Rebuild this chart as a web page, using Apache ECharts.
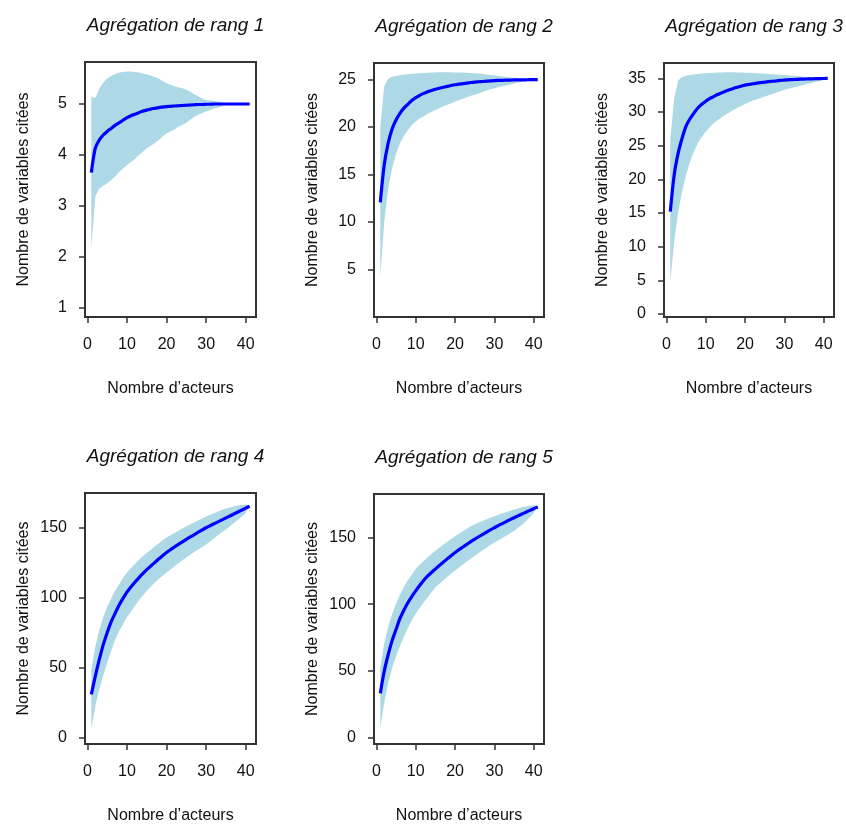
<!DOCTYPE html>
<html>
<head>
<meta charset="utf-8">
<script src="https://cdn.jsdelivr.net/npm/echarts@6/dist/echarts.min.js"></script>
<style>
html,body{margin:0;padding:0;background:#fff;}
#chart{width:846px;height:825px;}
</style>
</head>
<body>
<div id="chart"></div>
<script>
// Number of actors (x values)
const xs = [1,2,3,4,5,6,7,8,9,10,11,12,13,14,15,16,17,18,19,20,21,22,23,24,25,26,27,28,29,30,31,32,33,34,35,36,37,38,39,40,41];
const xTicks = [0,10,20,30,40];

const titles = ["Agrégation de rang 1","Agrégation de rang 2","Agrégation de rang 3","Agrégation de rang 4","Agrégation de rang 5"];
const xTitle = "Nombre d’acteurs";
const yTitle = "Nombre de variables citées";

// Rang 1
const mean1 = [3.65,4.13,4.29,4.39,4.46,4.52,4.58,4.63,4.68,4.73,4.77,4.80,4.83,4.86,4.88,4.90,4.915,4.93,4.94,4.95,4.955,4.96,4.965,4.97,4.975,4.98,4.985,4.99,4.99,4.995,4.995,5,5,5,5,5,5,5,5,5,5];
const upper1 = [5.14,5.12,5.30,5.42,5.50,5.55,5.59,5.62,5.63,5.64,5.64,5.63,5.62,5.60,5.58,5.56,5.53,5.50,5.45,5.41,5.38,5.35,5.33,5.31,5.28,5.24,5.19,5.15,5.11,5.08,5.07,5.06,5.05,5.04,5,5,5,5,5,5,5];
const lower1 = [2.16,3.18,3.34,3.39,3.44,3.50,3.57,3.66,3.73,3.80,3.86,3.92,3.99,4.06,4.13,4.18,4.23,4.29,4.36,4.42,4.46,4.50,4.55,4.59,4.63,4.69,4.75,4.79,4.82,4.85,4.88,4.91,4.93,4.95,5,5,5,5,5,5,5];
const yTicks1 = [1,2,3,4,5];

// Rang 2
const mean2 = [12.07,16.0,18.3,19.8,20.75,21.45,22.0,22.4,22.8,23.1,23.35,23.56,23.72,23.87,24.0,24.1,24.2,24.3,24.39,24.47,24.53,24.59,24.64,24.7,24.75,24.78,24.81,24.84,24.87,24.9,24.92,24.93,24.95,24.96,24.97,24.98,24.985,24.99,25,25,25];
const upper2 = [20.0,24.3,25.1,25.3,25.4,25.48,25.53,25.58,25.62,25.66,25.69,25.71,25.73,25.75,25.77,25.78,25.78,25.78,25.78,25.77,25.76,25.75,25.73,25.71,25.68,25.64,25.6,25.55,25.5,25.44,25.38,25.33,25.28,25.24,25.2,25.15,25.1,25.06,25.03,25.01,25];
const lower2 = [4.2,10.0,13.5,15.65,17.2,18.3,19.1,19.7,20.2,20.6,20.9,21.15,21.4,21.6,21.8,22.0,22.2,22.35,22.5,22.7,22.85,23.0,23.15,23.3,23.4,23.55,23.7,23.85,24.0,24.1,24.2,24.3,24.4,24.5,24.6,24.7,24.78,24.85,24.9,24.95,25];
const yTicks2 = [5,10,15,20,25];

// Rang 3
const mean3 = [15.2,20.7,23.9,26.1,27.9,29.0,29.85,30.6,31.15,31.6,32.0,32.3,32.6,32.85,33.1,33.3,33.5,33.7,33.85,34.0,34.1,34.2,34.3,34.38,34.45,34.52,34.58,34.64,34.7,34.75,34.79,34.82,34.85,34.88,34.9,34.92,34.94,34.96,34.98,34.99,35];
const upper3 = [26.0,32.0,34.7,35.2,35.4,35.5,35.58,35.65,35.72,35.78,35.82,35.85,35.87,35.89,35.9,35.9,35.9,35.89,35.87,35.85,35.83,35.8,35.77,35.74,35.7,35.66,35.62,35.58,35.54,35.5,35.45,35.4,35.35,35.3,35.25,35.2,35.16,35.12,35.08,35.05,35.02];
const lower3 = [4.8,10.8,15.2,18.2,20.7,22.65,24.1,25.4,26.3,27.1,27.75,28.35,28.8,29.2,29.6,29.95,30.3,30.6,30.9,31.2,31.45,31.7,31.9,32.1,32.3,32.5,32.7,32.9,33.1,33.3,33.45,33.6,33.75,33.9,34.05,34.2,34.35,34.5,34.62,34.75,34.9];
const yTicks3 = [0,5,10,15,20,25,30,35];

// Rang 4
const mean4 = [30.9,43.9,55.7,66.3,75,82.8,88.7,94.6,99.5,104,107.6,111,114.2,117.2,120,122.6,125.1,127.6,130,132.3,134.3,136.2,138.1,139.9,141.7,143.4,145.1,146.8,148.4,150,151.4,152.8,154.2,155.6,157,158.4,159.8,161.2,162.6,164,165.3];
const upper4 = [48.6,65,77,86,93.4,99.5,105,109.5,114,118,121,124,127,129.6,132,134.3,136.6,138.8,141,143,144.7,146.3,147.9,149.5,151,152.4,153.8,155.2,156.6,158,159.2,160.4,161.6,162.7,163.7,164.5,165.2,165.8,166.2,166.5,165.8];
const lower4 = [6,22.6,34.4,44.5,53.3,62,70,76,81,86,90,94,98,101.5,105,107.8,110.6,113.2,115.6,118,120.2,122.4,124.6,126.7,128.8,130.7,132.6,134.4,136.2,138,140.2,142.4,144.6,146.7,148.8,151,153.3,155.6,158,160.6,165];
const yTicks4 = [0,50,100,150];

// Rang 5
const mean5 = [33,49.6,62,72.6,81,89.3,95.5,101,105.7,110,114,117.8,121,123.8,126.4,129,131.5,134,136.4,138.8,140.9,142.9,144.9,146.9,148.8,150.6,152.4,154.1,155.8,157.4,159,160.5,162,163.5,164.9,166.3,167.7,169,170.4,171.7,173];
const upper5 = [52,70.7,83,92.5,100.4,107,112.8,117.7,122.2,126.4,129.5,132.3,135,137.6,140,142.3,144.6,146.8,149,151,152.9,154.8,156.6,158.4,160,161.3,162.5,163.7,164.9,166,167.1,168.1,169.1,170.1,171,171.9,172.7,173.4,173.9,174.3,173.6];
const lower5 = [7.4,26,41,52,60.7,68.5,75.7,82,87.7,93,97.2,101.2,105,109,112.8,115.4,117.9,120.4,122.8,125.2,127.5,129.8,132,134.2,136.4,138.4,140.4,142.4,144.4,146.3,148,149.7,151.4,153.2,155,157.3,159.7,162.3,165.2,168.6,172.3];
const yTicks5 = [0,50,100,150];

const panels = [
  {mean: mean1, upper: upper1, lower: lower1, ticks: yTicks1, ymin: 0.81, ymax: 5.826, left: 85, top: 62, w: 171, h: 255},
  {mean: mean2, upper: upper2, lower: lower2, ticks: yTicks2, ymin: -0.03, ymax: 26.76, left: 374, top: 63, w: 170, h: 254},
  {mean: mean3, upper: upper3, lower: lower3, ticks: yTicks3, ymin: -0.45, ymax: 37.29, left: 664, top: 63, w: 170, h: 254},
  {mean: mean4, upper: upper4, lower: lower4, ticks: yTicks4, ymin: -4.5, ymax: 174.8, left: 85, top: 493, w: 171, h: 254},
  {mean: mean5, upper: upper5, lower: lower5, ticks: yTicks5, ymin: -5.0, ymax: 182.7, left: 374, top: 494, w: 170, h: 253}
];

const FONT = '"Liberation Sans", Arial, Helvetica, sans-serif';
const grids = [], xAxes = [], yAxes = [], series = [], titleOpts = [];

// Band polygon drawn through the axis scales (api.coord)
function bandRenderer(params, api) {
  if (params.dataIndexInside !== 0) return null;
  const n = params.dataInsideLength;
  const top = [], bottom = [];
  for (let k = 0; k < n; k++) {
    const x = api.value(0, k);
    top.push(api.coord([x, api.value(2, k)]));
    bottom.push(api.coord([x, api.value(1, k)]));
  }
  const points = top.concat(bottom.reverse());
  return {
    type: 'polygon',
    shape: {points: points},
    style: {fill: '#ADD8E6', stroke: null},
    silent: true
  };
}

panels.forEach((p, i) => {
  grids.push({left: p.left, top: p.top, width: p.w, height: p.h, show: true, borderColor: '#333', borderWidth: 2, backgroundColor: 'transparent', containLabel: false});
  titleOpts.push({
    text: titles[i], left: p.left + p.w / 2, top: p.top - 51, textAlign: 'center',
    textStyle: {fontFamily: FONT, fontSize: 19, fontStyle: 'italic', fontWeight: 'normal', color: '#111'}
  });
  xAxes.push({
    type: 'value', gridIndex: i, min: -0.6, max: 42.6,
    axisLine: {show: false, onZero: false},
    axisTick: {show: true, length: 6, customValues: xTicks, lineStyle: {color: '#333', width: 1.5}},
    axisLabel: {customValues: xTicks, margin: 20, fontFamily: FONT, fontSize: 16, color: '#111'},
    splitLine: {show: false},
    name: xTitle, nameLocation: 'middle', nameGap: 64,
    nameTextStyle: {fontFamily: FONT, fontSize: 16, color: '#111'}
  });
  yAxes.push({
    type: 'value', gridIndex: i, min: p.ymin, max: p.ymax,
    axisLine: {show: false, onZero: false},
    axisTick: {show: true, length: 6, customValues: p.ticks, lineStyle: {color: '#333', width: 1.5}},
    axisLabel: {customValues: p.ticks, margin: 18, fontFamily: FONT, fontSize: 16, color: '#111'},
    splitLine: {show: false},
    name: yTitle, nameLocation: 'middle', nameGap: 53, nameRotate: 90,
    nameTextStyle: {fontFamily: FONT, fontSize: 16, color: '#111'}
  });
  const bandData = xs.map((x, k) => [x, p.lower[k], p.upper[k]]);
  const meanData = xs.map((x, k) => [x, p.mean[k]]);
  series.push({
    type: 'custom', xAxisIndex: i, yAxisIndex: i, data: bandData,
    encode: {x: 0, y: [1, 2]}, renderItem: bandRenderer, silent: true, clip: true, z: 2
  });
  series.push({
    type: 'line', xAxisIndex: i, yAxisIndex: i, data: meanData,
    symbol: 'none', silent: true, smooth: 0.3,
    lineStyle: {color: '#0000FF', width: 3.2}, z: 3
  });
});

const chart = echarts.init(document.getElementById('chart'), null, {renderer: 'canvas'});
chart.setOption({
  animation: false,
  backgroundColor: '#fff',
  title: titleOpts,
  grid: grids,
  xAxis: xAxes,
  yAxis: yAxes,
  series: series
});
</script>
</body>
</html>
